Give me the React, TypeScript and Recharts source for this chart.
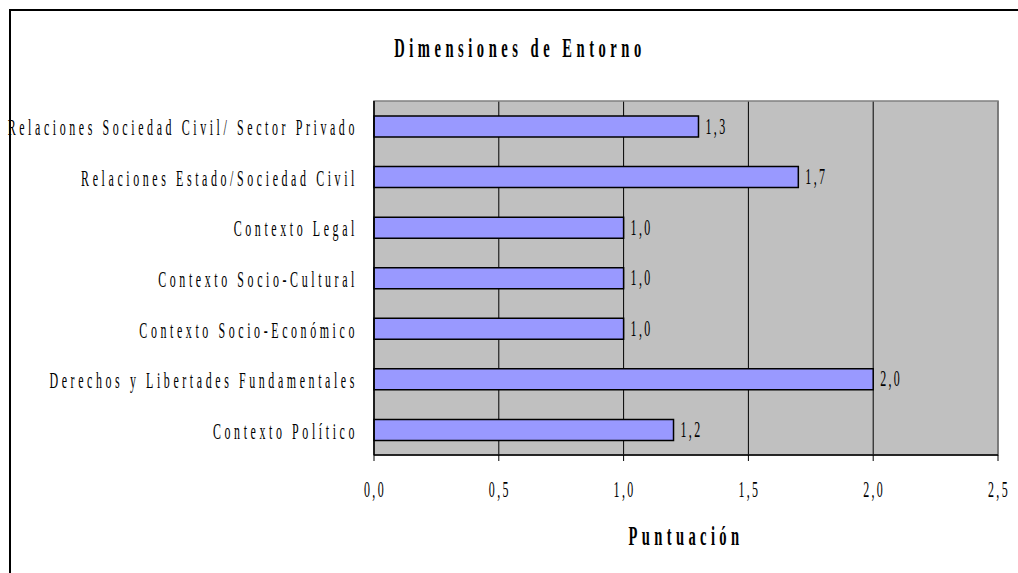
import { BarChart, Bar, XAxis, YAxis, CartesianGrid, ReferenceArea, LabelList } from "recharts";

const CATEGORIES = [
  "Relaciones Sociedad Civil/ Sector Privado",
  "Relaciones Estado/Sociedad Civil",
  "Contexto Legal",
  "Contexto Socio-Cultural",
  "Contexto Socio-Económico",
  "Derechos y Libertades Fundamentales",
  "Contexto Político",
];
const SCORES = [1.3, 1.7, 1.0, 1.0, 1.0, 2.0, 1.2];
const X_TICKS = [0, 0.5, 1, 1.5, 2, 2.5];
const TITLE = "Dimensiones de Entorno";
const X_TITLE = "Puntuación";

const FONT = '"Liberation Serif", "Times New Roman", serif';

const data = CATEGORIES.map((name, i) => ({ name, score: SCORES[i] }));

function fmt(v: number): string {
  return v.toFixed(1).replace(".", ",");
}

interface CondProps {
  x: number;
  y: number;
  anchor: "start" | "middle" | "end";
  size: number;
  scale: number;
  spacing: number;
  bold?: boolean;
  children: string;
}

// narrow, widely spaced text like the old Excel export
function Cond({ x, y, anchor, size, scale, spacing, bold, children }: CondProps) {
  return (
    <text
      transform={`translate(${x},${y}) scale(${scale},1)`}
      textAnchor={anchor}
      fontFamily={FONT}
      fontSize={size}
      fontWeight={bold ? "bold" : "normal"}
      letterSpacing={spacing}
      fill="#000"
    >
      {children}
    </text>
  );
}

function CategoryTick(props: any) {
  const { x, y, payload } = props;
  return (
    <Cond x={x} y={y + 9} anchor="end" size={23} scale={0.52} spacing={6.9}>
      {payload.value}
    </Cond>
  );
}

function ValueTick(props: any) {
  const { x, y, payload } = props;
  return (
    <Cond x={x + 1} y={y + 36} anchor="middle" size={23} scale={0.52} spacing={4.5}>
      {fmt(payload.value)}
    </Cond>
  );
}

function BarValue(props: any) {
  const { x, y, width, height, value } = props;
  return (
    <Cond x={x + width + 7} y={y + height / 2 + 7} anchor="start" size={23} scale={0.52} spacing={4.5}>
      {fmt(Number(value))}
    </Cond>
  );
}

function AxisTitle(props: any) {
  const { viewBox } = props;
  return (
    <Cond x={viewBox.x + viewBox.width / 2} y={545} anchor="middle" size={28} scale={0.52} spacing={8.4} bold>
      {X_TITLE}
    </Cond>
  );
}

export default function App() {
  return (
    <div
      style={{
        position: "absolute",
        left: 0,
        top: 0,
        width: 1018,
        height: 573,
        overflow: "hidden",
        background: "#fff",
      }}
    >
      <div
        style={{
          position: "absolute",
          left: 9,
          top: 9,
          width: 1200,
          height: 800,
          borderTop: "2px solid #000",
          borderLeft: "2px solid #000",
        }}
      />
      <svg width={1018} height={80} style={{ position: "absolute", left: 0, top: 0 }}>
        <Cond x={520} y={57} anchor="middle" size={28} scale={0.52} spacing={8.7} bold>
          {TITLE}
        </Cond>
      </svg>
      <div style={{ position: "absolute", left: 0, top: 0 }}>
        <BarChart
          width={1018}
          height={573}
          data={data}
          layout="vertical"
          margin={{ top: 101, right: 20, bottom: 58, left: 0 }}
        >
          <CartesianGrid horizontal={false} stroke="#000" fill="#C0C0C0" fillOpacity={1} />
          <ReferenceArea x1={0} x2={2.5} fill="none" stroke="#808080" strokeWidth={1.5} />
          <XAxis
            type="number"
            domain={[0, 2.5]}
            ticks={X_TICKS}
            height={60}
            tickSize={6}
            tickMargin={0}
            axisLine={{ stroke: "#000", strokeWidth: 1.5 }}
            tickLine={{ stroke: "#000" }}
            tick={<ValueTick />}
            label={<AxisTitle />}
          />
          <YAxis
            type="category"
            dataKey="name"
            width={374}
            tickSize={0}
            tickMargin={16}
            axisLine={{ stroke: "#000", strokeWidth: 1.5 }}
            tickLine={false}
            interval={0}
            tick={<CategoryTick />}
          />
          <Bar dataKey="score" barSize={21} fill="#9999FF" stroke="#000" strokeWidth={1.5} isAnimationActive={false}>
            <LabelList dataKey="score" content={<BarValue />} />
          </Bar>
        </BarChart>
      </div>
    </div>
  );
}
